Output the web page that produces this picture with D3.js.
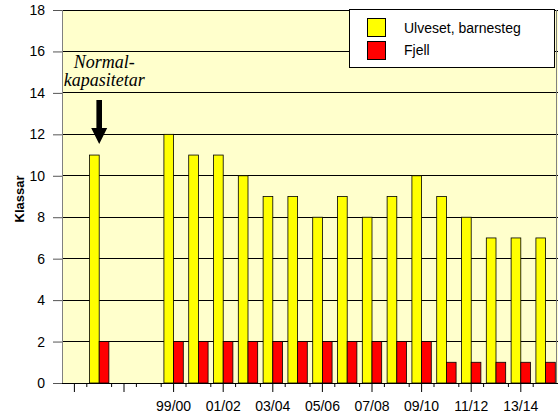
<!DOCTYPE html>
<html><head><meta charset="utf-8">
<script src="https://cdn.jsdelivr.net/npm/d3@7"></script>
<style>body{margin:0;background:#fff}svg{display:block}svg text{font-family:"Liberation Sans",Arial,sans-serif}svg text.serif{font-family:"Liberation Serif","Times New Roman",serif;font-style:italic}</style>
</head><body>
<svg id="c" width="558" height="416"></svg>
<script>
const categories = ["_a","Normal","_b","_c","99/00","00/01","01/02","02/03","03/04","04/05","05/06","06/07","07/08","08/09","09/10","10/11","11/12","12/13","13/14","14/15"];
const ulveset = [null,11,null,null,12,11,11,10,9,9,8,9,8,9,10,9,8,7,7,7];
const fjell   = [null,2,null,null,2,2,2,2,2,2,2,2,2,2,2,1,1,1,1,1];
const seriesNames = ["Ulveset, barnesteg","Fjell"];
const seriesColors = ["#FFFF00","#FF0000"];
const yTicks = [0,2,4,6,8,10,12,14,16,18];
const annotation = ["Normal-","kapasitetar"];

const svg = d3.select("#c");
const L=62,R=558,T=10,B=383;
const x = d3.scaleBand().domain(categories).range([L,R]);
const xs = d3.scaleBand().domain([0,1]).range([0,x.step()]).paddingInner(0).paddingOuter(0.28);
const y = d3.scaleLinear().domain([0,18]).range([B,T]);

svg.append("rect").attr("x",L).attr("y",T).attr("width",R-L).attr("height",B-T).attr("fill","#FFFFCC");
// gridlines
svg.append("g").selectAll("line").data(yTicks.filter(d=>d>0)).join("line")
  .attr("x1",L).attr("x2",R).attr("y1",d=>y(d)).attr("y2",d=>y(d)).attr("stroke","#000").attr("stroke-width",1).attr("shape-rendering","crispEdges");
// borders
svg.append("line").attr("x1",L+0.5).attr("x2",L+0.5).attr("y1",T).attr("y2",B).attr("stroke","#808080");
svg.append("line").attr("x1",R-1.5).attr("x2",R-1.5).attr("y1",T).attr("y2",B).attr("stroke","#808080");

// bars
const series=[ulveset,fjell];
series.forEach((vals,si)=>{
  svg.append("g").selectAll("rect").data(categories.map((c,i)=>({c,v:vals[i]})).filter(d=>d.v!=null)).join("rect")
    .attr("x",d=>x(d.c)+xs(si)).attr("width",xs.bandwidth())
    .attr("y",d=>y(d.v)).attr("height",d=>B-y(d.v))
    .attr("fill",seriesColors[si]).attr("stroke","#000").attr("stroke-width",0.8);
});

// y axis
const ya = svg.append("g").attr("transform",`translate(${L},0)`)
  .call(d3.axisLeft(y).tickValues(yTicks).tickSize(9).tickPadding(8));
ya.select(".domain").remove();
ya.selectAll("line").attr("stroke","#555");
ya.selectAll("text").attr("font-size",14).attr("fill","#000");

// x axis
svg.append("line").attr("x1",L).attr("x2",R).attr("y1",B+0.5).attr("y2",B+0.5).attr("stroke","#000");
const major = categories.filter((c,i)=>i%2===0);
const xa = svg.append("g").attr("transform",`translate(0,${B})`)
  .call(d3.axisBottom(x).tickValues(major).tickSize(9).tickPadding(10).tickFormat(d=>d.startsWith("_")?"":d));
xa.select(".domain").remove();
xa.selectAll("line").attr("stroke","#000");
xa.selectAll("text").attr("font-size",14).attr("fill","#000").attr("dy","0.65em");
// minor ticks at category boundaries
svg.append("g").selectAll("line").data(categories.slice(1)).join("line")
  .attr("x1",d=>x(d)).attr("x2",d=>x(d)).attr("y1",B).attr("y2",B+4).attr("stroke","#000");

// y label
svg.append("text").attr("transform","translate(24,199) rotate(-90)").attr("text-anchor","middle")
  .attr("font-size",13).attr("font-weight","bold").text("Klassar");

// legend
const lg = svg.append("g");
lg.append("rect").attr("x",349.5).attr("y",9.5).attr("width",205).attr("height",58).attr("fill","#fff").attr("stroke","#000");
seriesNames.forEach((n,i)=>{
  lg.append("rect").attr("x",367.5).attr("y",18.5+i*23).attr("width",18).attr("height",18).attr("fill",seriesColors[i]).attr("stroke","#000");
  lg.append("text").attr("x",404).attr("y",33+i*22).attr("font-size",14).text(n);
});

// annotation
const cx = x("Normal")+x.step()/2;
svg.append("g").selectAll("text").data(annotation).join("text").attr("class","serif")
  .attr("x",cx+5).attr("y",(d,i)=>68+i*18).attr("text-anchor","middle")
  .attr("font-size",18).text(d=>d);
const tipY = y(ulveset[1])-11;
svg.append("path").attr("d",`M${cx-2.8},${tipY-44}L${cx+2.8},${tipY-44}L${cx+2.8},${tipY-16}L${cx+8},${tipY-16}L${cx},${tipY}L${cx-8},${tipY-16}L${cx-2.8},${tipY-16}Z`).attr("fill","#000");
</script>
</body></html>
